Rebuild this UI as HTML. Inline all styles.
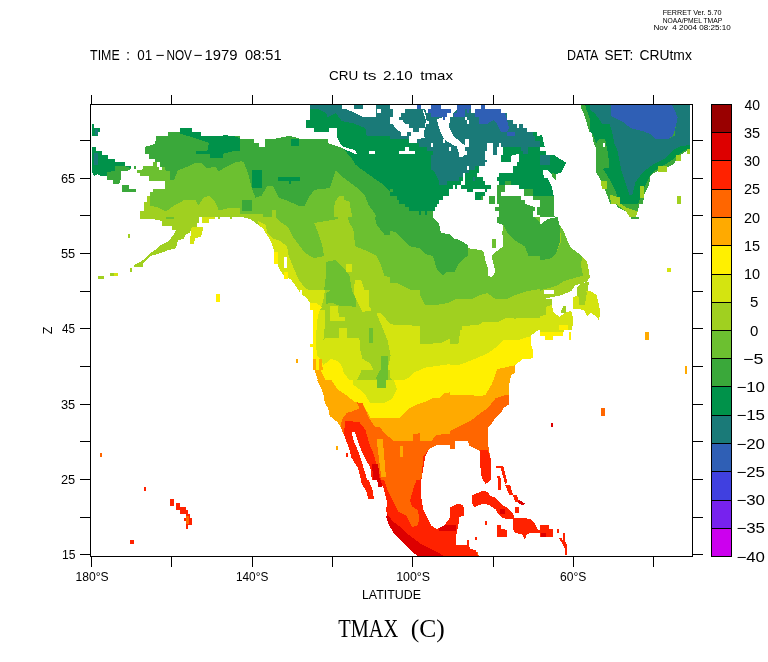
<!DOCTYPE html>
<html><head><meta charset="utf-8"><style>
html,body{margin:0;padding:0;background:#fff;}
svg{display:block;will-change:transform;}
</style></head><body>
<svg width="768" height="662" viewBox="0 0 768 662">
<rect width="768" height="662" fill="#fff"/>
<defs>
<clipPath id="c0"><rect x="90" y="104" width="150" height="113"/></clipPath>
<clipPath id="c1"><rect x="240" y="104" width="150" height="113"/></clipPath>
<clipPath id="c2"><rect x="390" y="104" width="75" height="56"/></clipPath>
<clipPath id="c3"><rect x="465" y="104" width="75" height="56"/></clipPath>
<clipPath id="c4"><rect x="540" y="104" width="150" height="113"/></clipPath>
<clipPath id="c5"><rect x="390" y="160" width="75" height="57"/></clipPath>
<clipPath id="c6"><rect x="465" y="160" width="75" height="57"/></clipPath>
<clipPath id="c7"><rect x="90" y="217" width="150" height="113"/></clipPath>
<clipPath id="c8"><rect x="240" y="217" width="150" height="113"/></clipPath>
<clipPath id="c9"><rect x="390" y="217" width="150" height="113"/></clipPath>
<clipPath id="c10"><rect x="540" y="217" width="150" height="113"/></clipPath>
<clipPath id="c11"><rect x="240" y="330" width="150" height="113"/></clipPath>
<clipPath id="c12"><rect x="390" y="330" width="150" height="113"/></clipPath>
<clipPath id="c13"><rect x="540" y="330" width="150" height="113"/></clipPath>
<clipPath id="c14"><rect x="90" y="443" width="150" height="113"/></clipPath>
<clipPath id="c15"><rect x="240" y="443" width="150" height="113"/></clipPath>
<clipPath id="c16"><rect x="390" y="443" width="150" height="113"/></clipPath>
<clipPath id="c17"><rect x="540" y="443" width="150" height="113"/></clipPath>
<clipPath id="c18"><rect x="330" y="330" width="120" height="113"/></clipPath>
<clipPath id="c19"><rect x="330" y="430" width="120" height="126"/></clipPath>
<clipPath id="c20"><rect x="300" y="290" width="120" height="80"/></clipPath>
<clipPath id="c21"><rect x="300" y="380" width="120" height="100"/></clipPath>
<clipPath id="c22"><rect x="590" y="104" width="100" height="100"/></clipPath>
<clipPath id="plot"><rect x="91" y="105" width="600" height="451"/></clipPath>
</defs><g clip-path="url(#plot)" shape-rendering="crispEdges">
<g clip-path="url(#c0)">
<polygon fill="#3aa83a" points="179.8,128.4 191.6,128.4 191.6,132.3 201.3,132.3 201.3,136.2 240.0,136.2 240.0,217.1 140.4,217.1 140.4,211.4 143.7,211.4 143.7,201.7 146.6,201.7 146.6,195.8 149.6,195.8 149.6,191.9 152.5,191.9 152.5,189.0 165.2,189.0 165.2,181.1 148.6,181.1 148.6,176.3 139.8,176.3 139.8,173.3 136.9,173.3 136.9,170.4 142.7,169.4 142.7,166.1 152.5,166.1 152.5,162.2 154.5,162.2 154.5,158.7 148.6,158.7 148.6,153.8 144.7,153.8 144.7,147.0 154.5,144.0 156.4,139.2 156.4,136.2 168.1,136.2 168.1,132.3 179.8,132.3"/>
<polygon fill="#00924a" points="179.8,128.4 191.6,128.4 191.6,132.3 201.3,132.3 201.3,136.2 218.9,136.2 224.8,135.2 234.5,136.2 240.0,138.2 240.0,150.9 234.5,150.9 222.8,153.8 222.8,157.7 210.1,157.7 210.1,153.8 196.4,153.8 196.4,150.9 207.2,150.9 209.1,143.1 201.3,140.1 191.6,137.2 179.8,133.3"/>
<polygon fill="#6cc030" points="152.5,162.2 156.4,161.6 157.4,166.5 164.2,166.5 166.2,171.4 170.1,171.4 170.1,180.2 174.0,180.2 177.9,170.4 187.7,166.5 195.5,162.6 201.3,162.6 207.2,168.5 215.0,166.5 218.9,171.4 226.7,166.5 234.5,162.6 240.0,161.6 240.0,217.1 140.4,217.1 140.4,211.4 143.7,211.4 143.7,201.7 146.6,201.7 146.6,195.8 149.6,195.8 149.6,191.9 152.5,191.9 152.5,189.0 165.2,189.0 165.2,181.1 148.6,181.1 148.6,176.3 139.8,176.3 139.8,173.3 136.9,173.3 136.9,170.4 142.7,169.4 142.7,166.1 152.5,166.1"/>
<polygon fill="#a0d020" points="140.4,217.1 140.4,211.4 143.7,211.4 143.7,201.7 146.6,201.7 146.6,195.8 149.6,195.8 150.5,205.6 158.4,207.5 166.2,211.4 174.0,205.6 181.8,201.7 183.8,199.7 195.5,199.7 198.4,205.6 203.3,197.8 209.1,195.8 215.0,201.7 218.9,210.4 226.7,208.5 240.0,207.5 240.0,217.1"/>
<polygon fill="#ffffff" points="157.4,161.6 160.3,161.6 160.3,166.5 162.3,166.5 162.3,170.4 159.3,170.4 159.3,166.5 157.4,166.5"/>
<polygon fill="#ffffff" points="152.5,185.1 165.2,185.1 165.2,189.0 152.5,189.0"/>
<polygon fill="#ffffff" points="148.6,181.1 152.5,181.1 152.5,184.1 148.6,184.1"/>
<polygon fill="#ffffff" points="154.5,181.1 158.4,181.1 158.4,184.1 154.5,184.1"/>
<polygon fill="#00924a" points="91.6,147.0 95.9,147.0 95.9,150.9 101.7,150.9 101.7,154.8 107.6,154.8 107.6,158.7 115.4,158.7 115.4,162.2 125.2,162.2 125.2,166.1 131.4,166.1 131.4,169.4 128.1,169.4 127.1,171.4 121.2,171.4 121.2,177.2 119.3,177.2 119.3,184.1 112.5,184.1 112.5,180.2 106.6,180.2 106.6,176.3 101.7,176.3 97.8,174.3 93.9,176.3 91.6,171.4"/>
<polygon fill="#1a7a78" points="93.9,152.8 97.8,152.8 97.8,164.5 93.9,164.5"/>
<polygon fill="#3aa83a" points="115.4,166.1 125.2,166.1 131.4,168.5 127.1,171.4 121.2,171.4 121.2,177.2 119.3,184.1 112.5,184.1 112.5,180.2 106.6,180.2 106.6,172.4 115.4,170.4"/>
<polygon fill="#00924a" points="91.6,123.5 93.9,123.5 93.9,128.4 99.8,128.4 99.8,132.3 97.8,132.3 97.8,136.2 91.6,136.2"/>
<polygon fill="#1a7a78" points="94.9,129.4 97.8,129.4 97.8,135.2 94.9,135.2"/>
<polygon fill="#3aa83a" points="122.2,185.1 129.1,185.1 129.1,189.0 135.9,189.0 135.9,191.9 122.2,191.9"/>
<polygon fill="#3aa83a" points="133.9,166.1 135.9,166.1 135.9,169.4 133.9,169.4"/>
</g>
<g clip-path="url(#c1)">
<polygon fill="#3aa83a" points="240.0,104.0 390.0,104.0 390.0,217.1 240.0,217.1"/>
<polygon fill="#00924a" points="310.3,104.0 390.0,104.0 390.0,191.9 382.6,184.1 376.7,180.2 363.0,170.4 355.2,164.5 353.3,160.6 343.5,148.9 339.6,143.1 336.7,136.0 336.7,128.0 328.5,128.0 328.5,131.9 314.2,131.9 314.2,128.0 306.4,128.0 306.4,120.0 310.3,120.0"/>
<polygon fill="#1a7a78" points="310.3,104.0 390.0,104.0 390.0,136.0 366.6,136.0 365.4,128.2 353.7,123.5 341.8,121.0 335.9,113.2 327.5,117.1 326.3,113.2 318.1,109.3 310.3,109.3"/>
<polygon fill="#ffffff" points="240.0,104.0 310.3,104.0 310.3,120.0 306.4,120.0 306.4,128.0 314.2,128.0 314.2,131.9 328.5,131.9 328.5,128.0 336.7,128.0 336.7,136.0 340.0,143.1 343.9,147.0 354.8,150.1 357.2,154.0 354.8,154.0 340.0,147.0 327.9,143.1 327.9,139.2 301.7,139.2 290.0,135.8 272.2,139.2 265.4,139.2 265.4,147.0 258.6,147.0 258.6,143.1 253.7,143.1 253.7,139.2 240.0,139.2"/>
<polygon fill="#ffffff" points="341.6,104.0 353.9,104.0 353.9,109.1 375.9,109.1 375.9,117.1 363.0,117.1 346.6,109.1 341.6,109.1"/>
<polygon fill="#ffffff" points="363.0,104.0 375.9,104.0 375.9,109.1 363.0,109.1"/>
<polygon fill="#ffffff" points="376.7,108.9 380.6,108.9 380.6,112.8 376.7,112.8"/>
<polygon fill="#ffffff" points="368.9,150.9 374.8,150.9 374.8,153.8 368.9,153.8"/>
<polygon fill="#00924a" points="251.7,170.4 261.5,170.4 261.5,188.0 251.7,188.0"/>
<polygon fill="#00924a" points="278.1,177.2 299.6,177.2 299.6,181.1 290.8,181.1 290.8,184.1 288.8,184.1 288.8,181.1 278.1,181.1"/>
<polygon fill="#00924a" points="290.8,139.2 298.6,139.2 298.6,146.0 290.8,146.0"/>
<polygon fill="#6cc030" points="240.0,160.6 243.9,162.6 247.8,172.4 251.7,188.0 255.6,197.8 261.5,195.8 267.3,186.0 273.2,186.0 279.1,197.8 284.9,199.7 298.6,205.6 304.5,205.6 308.4,197.8 314.2,189.9 329.8,188.0 333.8,176.3 335.7,170.4 341.6,176.3 349.4,182.1 357.2,188.0 365.0,195.8 368.9,205.6 374.8,213.4 376.7,217.1 240.0,217.1"/>
<polygon fill="#3aa83a" points="242.0,199.7 251.7,199.7 251.7,211.4 242.0,211.4"/>
<polygon fill="#a0d020" points="240.0,214.4 263.4,214.4 263.4,217.1 240.0,217.1"/>
<polygon fill="#a0d020" points="272.2,210.4 276.1,210.4 276.1,217.1 272.2,217.1"/>
<polygon fill="#a0d020" points="339.6,195.8 343.5,195.8 343.5,199.7 349.4,201.7 352.3,217.1 333.8,217.1 334.7,201.7"/>
</g>
<g clip-path="url(#c2)">
<polygon fill="#1a7a78" points="390.0,104.0 465.0,104.0 465.0,160.0 390.0,160.0"/>
<polygon fill="#00924a" points="390.0,138.7 409.0,138.7 409.0,142.6 419.3,142.6 419.3,147.0 427.1,147.0 427.1,150.9 433.0,150.9 433.0,154.8 431.0,154.8 431.0,160.0 390.0,160.0"/>
<polygon fill="#ffffff" points="399.3,150.9 414.9,150.9 414.9,153.8 399.3,153.8"/>
<polygon fill="#ffffff" points="405.1,147.0 408.6,147.0 408.6,150.9 405.1,150.9"/>
<polygon fill="#ffffff" points="390.0,104.0 417.3,104.0 417.3,108.9 422.7,108.9 425.2,113.3 426.6,120.6 429.1,120.6 429.1,123.5 426.1,124.5 425.2,128.4 423.7,132.3 424.7,137.7 417.3,139.2 416.9,142.6 409.0,142.6 409.0,136.2 411.0,136.2 411.0,132.3 407.1,132.3 407.1,135.7 401.2,135.7 400.7,132.3 394.9,127.9 392.9,124.0 390.0,124.0 390.0,116.7 392.9,116.7 392.9,109.4 390.0,109.4"/>
<polygon fill="#1a7a78" points="405.1,108.9 422.7,108.9 423.7,113.3 426.1,120.6 425.2,124.5 424.7,128.4 419.3,128.4 419.3,131.8 413.4,131.8 413.4,128.4 409.0,128.4 409.0,124.5 403.7,123.0 403.2,120.1 399.3,119.6 399.3,117.2 401.2,117.2 401.2,112.8 405.1,112.8"/>
<polygon fill="#ffffff" points="420.8,104.0 431.0,104.0 431.0,108.9 427.6,108.9 427.6,112.8 426.6,112.8 425.2,108.9 420.8,108.9"/>
<polygon fill="#ffffff" points="440.8,104.0 457.4,104.0 457.4,109.4 453.5,112.8 452.5,116.7 449.6,117.7 449.6,122.6 449.1,127.4 451.5,132.3 454.5,137.2 458.4,140.1 461.3,143.1 465.0,145.0 465.0,154.8 462.3,157.7 459.3,156.7 458.4,150.9 456.4,146.0 452.5,145.0 450.5,143.1 446.6,141.1 443.2,137.2 440.8,132.3 438.8,127.4 436.9,119.6 440.8,117.7 444.7,116.7 446.6,112.8 450.5,109.4 442.7,109.4 440.8,108.9"/>
<polygon fill="#2f5fb5" points="416.9,104.0 420.8,104.0 420.8,108.9 416.9,108.9"/>
<polygon fill="#2f5fb5" points="431.0,104.0 440.8,104.0 440.8,109.4 450.5,109.4 450.5,112.8 446.6,112.8 446.6,116.7 444.7,116.7 444.7,119.6 443.2,119.6 443.2,116.7 431.0,116.7 431.0,112.8 427.6,112.8 427.6,108.9 431.0,108.9"/>
<polygon fill="#2f5fb5" points="457.4,104.0 465.0,104.0 465.0,116.7 453.5,116.7 453.5,112.8 457.4,112.8"/>
<polygon fill="#ffffff" points="431.0,143.1 433.0,143.1 433.0,147.0 431.0,147.0"/>
<polygon fill="#ffffff" points="442.7,139.2 445.2,139.2 445.2,143.1 442.7,143.1"/>
<polygon fill="#ffffff" points="448.6,147.0 451.0,147.0 451.0,150.9 448.6,150.9"/>
</g>
<g clip-path="url(#c3)">
<polygon fill="#1a7a78" points="465.0,104.0 540.0,104.0 540.0,160.0 465.0,160.0"/>
<polygon fill="#ffffff" points="470.9,104.0 540.0,104.0 540.0,136.2 537.3,136.2 536.8,132.3 527.0,132.3 527.0,127.9 523.1,127.9 523.1,124.0 519.2,124.0 519.2,127.9 516.8,127.9 516.8,124.0 512.9,124.0 512.9,120.1 507.0,120.1 507.0,113.3 500.6,113.3 500.6,109.4 485.0,109.4 485.0,105.0 481.1,105.0 481.1,109.4 475.3,109.4 475.3,112.8 470.9,112.8"/>
<polygon fill="#2f5fb5" points="465.0,104.0 470.9,104.0 470.9,108.9 468.9,108.9 468.9,112.8 467.0,112.8 467.0,108.9 465.0,108.9"/>
<polygon fill="#2f5fb5" points="481.1,104.0 485.0,104.0 485.0,109.4 500.6,109.4 500.6,113.3 505.0,113.3 507.0,120.1 508.9,127.9 507.0,131.8 501.1,131.8 499.2,127.9 497.2,124.0 493.3,120.1 487.0,124.0 479.2,124.0 479.2,116.7 475.3,116.7 475.3,109.4 481.1,109.4"/>
<polygon fill="#2f5fb5" points="507.0,131.8 514.8,131.8 514.8,135.7 507.0,135.7"/>
<polygon fill="#ffffff" points="465.0,116.7 467.0,116.7 467.0,120.1 468.9,120.1 468.9,124.0 467.0,124.0 467.0,120.1 465.0,120.1"/>
<polygon fill="#ffffff" points="465.0,139.2 468.9,139.2 468.9,147.0 465.0,147.0"/>
<polygon fill="#ffffff" points="465.0,150.9 467.0,150.9 467.0,154.8 465.0,154.8"/>
<polygon fill="#ffffff" points="487.0,143.1 493.3,143.1 493.3,154.8 497.2,154.8 497.2,147.0 499.2,147.0 499.2,143.1 501.1,143.1 501.1,147.0 503.1,147.0 503.1,154.8 501.1,160.0 485.0,160.0 485.0,150.9 487.0,150.9"/>
<polygon fill="#00924a" points="503.1,147.0 520.7,147.0 520.7,150.9 523.1,150.9 523.1,153.8 527.5,153.8 527.5,147.0 540.0,147.0 540.0,160.0 501.1,160.0 501.1,154.8 503.1,154.8"/>
<polygon fill="#ffffff" points="510.9,155.8 518.7,153.8 518.7,160.0 510.9,160.0"/>
<polygon fill="#00924a" points="533.4,132.3 537.3,132.3 537.3,136.2 540.0,136.2 540.0,141.1 535.3,141.1 535.3,136.2 533.4,136.2"/>
</g>
<g clip-path="url(#c4)">
<polygon fill="#3aa83a" points="581.0,104.0 690.0,104.0 690.0,150.9 684.5,154.8 680.6,158.7 676.7,162.6 672.8,166.5 667.0,170.4 657.2,172.4 651.3,176.3 647.4,186.0 643.5,195.8 639.6,203.6 637.7,211.4 635.7,217.1 629.8,217.1 625.9,211.4 618.1,207.5 612.3,199.7 606.4,189.9 602.5,182.1 598.6,172.4 596.6,164.5 595.7,154.8 592.7,143.1 589.8,133.3 586.9,123.5 583.9,113.8 581.0,107.9"/>
<polygon fill="#00924a" points="584.9,104.0 690.0,104.0 690.0,147.0 684.5,150.9 676.7,156.7 668.9,162.6 657.2,166.5 649.4,170.4 643.5,178.2 639.6,188.0 635.7,197.8 631.8,203.6 625.9,203.6 620.1,197.8 614.2,188.0 608.4,178.2 602.5,168.5 600.5,158.7 598.6,147.0 596.6,137.2 592.7,127.4 588.8,115.7 585.9,107.9"/>
<polygon fill="#1a7a78" points="588.8,104.0 690.0,104.0 690.0,141.1 684.5,143.1 676.7,150.9 665.0,156.7 651.3,160.6 643.5,164.5 637.7,172.4 633.8,182.1 628.9,193.8 626.9,186.0 624.0,172.4 618.1,166.5 618.1,154.8 616.2,143.1 614.2,133.3 608.4,119.6 598.6,113.8"/>
<polygon fill="#2f5fb5" points="611.3,104.0 670.9,104.0 674.8,109.9 676.7,119.6 674.8,127.4 670.9,137.2 657.2,139.2 651.3,129.4 643.5,129.4 633.8,125.5 622.0,119.6 611.3,115.7"/>
<polygon fill="#a0d020" points="610.3,195.8 618.1,205.6 625.9,211.4 629.8,217.1 635.7,217.1 637.7,211.4 625.9,207.5 618.1,201.7 614.2,195.8"/>
<polygon fill="#a0d020" points="657.2,168.5 672.8,164.5 667.0,171.4 657.2,172.4"/>
<polygon fill="#ffffff" points="602.5,143.1 605.4,143.1 605.4,147.0 602.5,147.0"/>
<polygon fill="#a0d020" points="676.7,195.8 680.6,195.8 680.6,203.6 676.7,203.6"/>
<polygon fill="#00924a" points="540.0,135.2 542.0,135.2 543.9,143.1 544.9,147.0 540.0,147.0"/>
<polygon fill="#00924a" points="540.0,150.9 545.9,150.9 545.9,154.8 553.7,154.8 559.5,158.7 566.4,162.6 563.4,168.5 561.5,172.4 555.6,174.3 555.6,180.2 551.7,174.3 547.8,170.4 543.9,170.4 547.8,178.2 551.7,186.0 553.7,195.8 553.7,205.6 554.6,217.1 540.0,217.1"/>
<polygon fill="#1a7a78" points="540.0,154.8 549.8,154.8 549.8,164.5 540.0,164.5"/>
<polygon fill="#3aa83a" points="551.7,172.4 555.6,174.3 555.6,180.2 551.7,176.3"/>
<polygon fill="#3aa83a" points="540.0,195.8 553.7,195.8 553.7,205.6 554.6,217.1 540.0,217.1"/>
<polygon fill="#ffffff" points="542.9,170.4 546.8,170.4 547.8,178.2 543.9,178.2"/>
</g>
<g clip-path="url(#c5)">
<polygon fill="#00924a" points="390.0,160.0 465.0,160.0 465.0,217.0 390.0,217.0"/>
<polygon fill="#1a7a78" points="431.0,160.0 465.0,160.0 465.0,172.7 462.8,172.7 462.8,177.1 459.3,177.1 459.3,181.0 447.1,181.0 447.1,184.9 438.8,184.9 438.8,181.0 436.9,177.1 434.9,172.7 433.0,169.8 431.0,169.8"/>
<polygon fill="#ffffff" points="465.0,172.7 465.0,217.0 433.0,217.0 433.0,210.8 434.9,210.8 434.9,206.9 436.9,206.9 436.9,203.9 438.8,203.9 438.8,200.0 442.7,200.0 442.7,196.1 448.6,196.1 448.6,188.8 452.5,188.8 452.5,185.4 454.5,185.4 454.5,188.8 456.9,188.8 456.9,184.9 460.8,184.9 460.8,181.0 462.8,181.0 462.8,172.7"/>
<polygon fill="#00924a" points="460.8,184.9 465.0,184.9 465.0,188.8 460.8,188.8"/>
<polygon fill="#3aa83a" points="390.0,196.1 397.3,196.1 397.3,200.0 399.3,200.0 399.3,203.9 405.1,203.9 405.1,206.9 409.0,206.9 409.0,210.8 419.3,210.8 419.3,214.7 421.2,214.7 421.2,210.8 425.2,210.8 425.2,214.7 427.1,214.7 427.1,210.8 433.0,210.8 433.0,217.0 390.0,217.0"/>
<polygon fill="#3aa83a" points="390.0,188.8 392.9,188.8 392.9,191.7 390.0,191.7"/>
</g>
<g clip-path="url(#c6)">
<polygon fill="#ffffff" points="465.0,160.0 540.0,160.0 540.0,217.0 465.0,217.0"/>
<polygon fill="#1a7a78" points="465.0,160.0 487.0,160.0 487.0,162.0 485.0,162.0 485.0,165.9 474.8,165.9 474.8,169.8 468.9,169.8 468.9,172.7 465.0,172.7"/>
<polygon fill="#ffffff" points="467.0,165.9 468.9,165.9 468.9,169.8 467.0,169.8"/>
<polygon fill="#00924a" points="465.0,172.7 468.9,172.7 468.9,169.8 474.8,169.8 474.8,165.9 478.7,165.9 478.7,172.7 477.2,172.7 477.2,176.6 483.1,176.6 483.1,181.0 485.0,181.0 485.0,184.9 490.9,184.9 490.9,188.8 487.0,188.8 487.0,191.7 485.0,191.7 485.0,188.8 472.8,188.8 472.8,191.7 467.0,191.7 467.0,188.8 465.0,188.8"/>
<polygon fill="#1a7a78" points="473.3,177.1 474.8,177.1 474.8,181.0 473.3,181.0"/>
<polygon fill="#00924a" points="475.3,192.2 485.0,192.2 485.0,196.1 483.1,196.1 483.1,200.0 475.3,200.0"/>
<polygon fill="#3aa83a" points="481.1,196.1 483.1,196.1 483.1,200.0 481.1,200.0"/>
<polygon fill="#3aa83a" points="488.9,196.1 494.8,196.1 494.8,203.5 488.9,203.5"/>
<polygon fill="#00924a" points="501.1,160.0 510.9,160.0 510.9,162.0 501.1,162.0"/>
<polygon fill="#00924a" points="519.2,160.0 540.0,160.0 540.0,196.1 533.4,196.1 533.4,192.2 524.6,192.2 524.6,188.8 519.2,188.8 519.2,184.9 510.9,184.9 510.9,181.0 505.0,181.0 505.0,184.9 499.2,184.9 499.2,181.0 497.2,181.0 497.2,177.1 499.2,177.1 499.2,173.2 512.9,173.2 512.9,165.9 517.2,165.9 517.2,162.0 519.2,162.0"/>
<polygon fill="#3aa83a" points="505.0,181.0 510.9,181.0 510.9,184.9 505.0,184.9"/>
<polygon fill="#3aa83a" points="523.6,188.8 533.4,188.8 533.4,196.1 540.0,196.1 540.0,200.0 533.4,200.0 533.4,196.1 523.6,196.1"/>
<polygon fill="#3aa83a" points="497.2,184.9 505.0,184.9 505.0,191.7 501.1,191.7 501.1,196.1 520.7,196.1 520.7,200.0 524.6,200.0 524.6,203.9 534.8,206.9 534.8,210.8 532.9,210.8 532.9,217.0 499.2,217.0 499.2,210.8 495.3,210.8 495.3,206.9 498.7,206.9 498.7,203.5 497.2,203.5"/>
<polygon fill="#3aa83a" points="537.3,206.9 540.0,206.9 540.0,214.7 537.3,214.7"/>
</g>
<g clip-path="url(#c7)">
<polygon fill="#a0d020" points="140.4,217.0 199.4,217.0 199.4,222.9 197.4,222.9 197.4,228.7 191.6,228.7 189.6,232.6 185.7,234.6 183.8,238.5 177.9,240.4 175.9,248.2 168.1,250.2 160.3,253.1 150.5,256.1 146.6,260.0 142.7,263.9 142.7,267.4 133.9,267.4 133.9,264.9 141.8,260.9 146.6,257.0 150.5,253.1 156.4,249.2 160.3,245.3 168.1,241.4 174.0,234.6 175.9,229.7 172.0,229.7 172.0,225.8 162.3,225.8 162.3,220.9 152.5,219.0 140.4,219.0"/>
<polygon fill="#6cc030" points="166.2,217.0 174.0,217.0 174.0,219.0 166.2,219.0"/>
<polygon fill="#d4e410" points="191.6,226.8 203.3,226.8 201.3,236.5 195.5,238.5 193.5,244.3 189.6,244.3 190.6,234.6"/>
<polygon fill="#d4e410" points="202.3,217.0 215.0,217.0 215.0,219.0 209.1,219.0 209.1,222.9 202.3,222.9"/>
<polygon fill="#a0d020" points="97.8,276.0 103.7,276.0 103.7,278.7 97.8,278.7"/>
<polygon fill="#a0d020" points="109.9,272.5 114.4,272.5 114.4,275.6 109.9,275.6"/>
<polygon fill="#d4e410" points="114.4,272.5 118.3,272.5 118.3,275.6 114.4,275.6"/>
<polygon fill="#a0d020" points="130.0,268.2 132.0,268.2 132.0,271.7 130.0,271.7"/>
<polygon fill="#a0d020" points="128.1,234.2 130.0,234.2 130.0,237.5 128.1,237.5"/>
<polygon fill="#a0d020" points="217.9,217.0 219.9,217.0 219.9,219.0 217.9,219.0"/>
<polygon fill="#a0d020" points="230.2,217.0 232.2,217.0 232.2,219.0 230.2,219.0"/>
<polygon fill="#fff000" points="216.0,294.1 219.9,294.1 219.9,302.0 216.0,302.0"/>
</g>
<g clip-path="url(#c8)">
<polygon fill="#a0d020" points="242.0,217.0 390.0,217.0 390.0,330.1 313.2,330.1 313.2,314.7 310.3,304.9 306.4,299.0 300.5,293.2 296.6,287.3 290.8,279.5 286.9,277.5 283.9,275.6 281.0,271.7 278.1,265.8 276.1,258.0 274.2,252.2 272.2,244.3 269.3,238.5 265.4,232.6 263.4,228.7 259.5,225.8 255.6,222.9 249.8,219.0"/>
<polygon fill="#6cc030" points="275.2,217.0 337.7,217.0 337.7,219.0 314.2,222.9 318.1,232.6 322.0,244.3 324.0,256.1 314.2,258.0 310.3,256.1 304.5,252.2 298.6,244.3 292.7,236.5 288.8,228.7 284.9,224.8 279.1,220.9"/>
<polygon fill="#6cc030" points="347.4,217.0 390.0,217.0 390.0,277.5 384.5,275.6 380.6,263.9 376.7,256.1 365.0,250.2 355.2,246.3 353.3,228.7 349.4,222.9"/>
<polygon fill="#6cc030" points="325.9,261.9 335.7,260.0 343.5,267.8 349.4,275.6 351.3,287.3 355.2,299.0 357.2,308.8 349.4,308.8 339.6,304.9 331.8,304.9 325.9,301.0 324.0,291.2 325.9,275.6"/>
<polygon fill="#3aa83a" points="374.8,217.0 390.0,217.0 390.0,234.6 384.5,234.6 376.7,224.8"/>
<polygon fill="#d4e410" points="257.6,220.9 265.4,224.8 267.3,232.6 273.2,238.5 279.1,240.4 286.9,246.3 288.8,256.1 292.7,265.8 298.6,279.5 304.5,287.3 314.2,293.2 322.0,295.1 324.0,304.9 314.2,304.9 306.4,299.0 300.5,293.2 296.6,287.3 290.8,279.5 286.9,277.5 283.9,275.6 281.0,271.7 278.1,265.8 276.1,258.0 274.2,252.2 272.2,244.3 269.3,238.5 265.4,232.6 263.4,228.7 259.5,225.8"/>
<polygon fill="#d4e410" points="355.2,279.5 361.1,279.5 365.0,291.2 368.9,306.8 370.9,310.8 361.1,310.8 357.2,302.9 353.3,291.2"/>
<polygon fill="#d4e410" points="318.1,304.9 329.8,306.8 335.7,308.8 341.6,312.7 345.5,320.5 347.4,330.1 313.2,330.1 313.2,314.7"/>
<polygon fill="#d4e410" points="376.7,312.7 384.5,312.7 390.0,318.6 390.0,330.1 374.8,330.1"/>
<polygon fill="#d4e410" points="346.4,263.9 352.3,263.9 352.3,271.7 346.4,271.7"/>
<polygon fill="#fff000" points="274.2,252.2 278.1,252.2 278.1,263.9 274.2,263.9"/>
<polygon fill="#fff000" points="283.9,271.7 287.9,271.7 287.9,278.5 283.9,278.5"/>
<polygon fill="#fff000" points="310.3,302.9 318.1,306.8 322.0,310.8 320.1,330.1 313.2,330.1 313.2,314.7"/>
<polygon fill="#ffffff" points="283.9,257.0 286.9,257.0 286.9,267.8 283.9,267.8"/>
</g>
<g clip-path="url(#c9)">
<polygon fill="#6cc030" points="390.0,217.0 540.0,217.0 540.0,330.1 390.0,330.1"/>
<polygon fill="#3aa83a" points="390.0,217.0 433.0,217.0 438.8,222.9 440.8,232.6 450.5,234.6 454.5,238.5 460.3,240.4 468.1,245.3 468.1,256.1 464.2,258.0 458.4,263.9 456.4,267.8 454.5,271.7 446.6,271.7 442.7,275.6 436.9,269.7 433.0,256.1 425.2,254.1 419.3,248.2 409.5,246.3 401.7,238.5 395.9,232.6 390.0,230.7"/>
<polygon fill="#3aa83a" points="497.4,217.0 534.5,217.0 540.0,222.9 540.0,256.1 528.7,256.1 524.8,246.3 515.0,240.4 507.2,232.6 503.3,224.8 497.4,222.9"/>
<polygon fill="#ffffff" points="433.0,217.0 497.4,217.0 497.4,222.9 503.3,224.8 502.3,232.6 503.3,246.3 495.5,252.2 491.6,256.1 493.5,263.9 495.5,271.7 491.6,277.5 487.7,275.6 487.7,267.8 485.7,261.9 483.8,252.2 481.8,250.2 468.1,248.2 468.1,245.3 460.3,240.4 454.5,238.5 450.5,234.6 440.8,232.6 438.8,222.9"/>
<polygon fill="#6cc030" points="491.6,238.5 496.4,238.5 496.4,248.2 491.6,248.2"/>
<polygon fill="#a0d020" points="390.0,283.4 397.8,283.4 409.5,289.3 419.3,293.2 425.2,304.9 436.9,304.9 448.6,302.9 456.4,299.0 472.0,299.0 479.8,295.1 487.7,293.2 495.5,299.0 507.2,299.0 515.0,295.1 526.7,291.2 538.4,289.3 540.0,289.3 540.0,330.1 390.0,330.1"/>
<polygon fill="#d4e410" points="390.0,324.4 411.5,324.4 411.5,330.1 390.0,330.1"/>
<polygon fill="#d4e410" points="462.3,326.4 479.8,324.4 483.8,321.5 499.4,321.5 507.2,317.6 515.0,318.6 526.7,317.6 540.0,317.6 540.0,330.1 462.3,330.1"/>
</g>
<g clip-path="url(#c10)">
<polygon fill="#a0d020" points="540.0,224.8 547.8,219.0 557.6,217.0 559.5,224.8 563.4,230.7 567.3,240.4 571.2,248.2 577.1,252.2 582.0,256.1 586.9,261.9 588.8,269.7 589.8,277.5 586.9,281.5 581.0,283.4 577.1,287.3 571.2,291.2 561.5,295.1 551.7,297.1 543.9,299.0 540.0,299.0"/>
<polygon fill="#6cc030" points="540.0,260.0 549.8,259.0 555.6,254.1 561.5,240.4 559.5,224.8 563.4,230.7 567.3,240.4 571.2,248.2 577.1,252.2 582.0,256.1 581.0,265.8 583.0,275.6 569.3,279.5 563.4,281.5 557.6,285.4 551.7,287.3 543.9,289.3 540.0,291.2"/>
<polygon fill="#3aa83a" points="540.0,224.8 547.8,219.0 557.6,217.0 559.5,224.8 560.5,240.4 555.6,254.1 549.8,259.0 540.0,260.0"/>
<polygon fill="#ffffff" points="543.9,290.2 553.7,290.2 553.7,294.1 543.9,294.1"/>
<polygon fill="#ffffff" points="551.7,297.1 561.5,295.1 571.2,291.2 575.2,285.4 581.0,283.4 579.1,291.2 577.1,299.0 573.2,306.8 571.2,310.8 565.4,314.7 559.5,316.6 553.7,312.7 551.7,304.9"/>
<polygon fill="#a0d020" points="540.0,299.0 551.7,299.0 551.7,304.9 553.7,312.7 551.7,316.6 540.0,316.6"/>
<polygon fill="#d4e410" points="545.9,306.8 551.7,304.9 553.7,312.7 559.5,316.6 565.4,312.7 571.2,310.8 573.2,318.6 572.2,330.1 540.0,330.1 540.0,316.6 545.9,314.7"/>
<polygon fill="#fff000" points="558.6,325.4 568.3,325.4 568.3,330.1 558.6,330.1"/>
<polygon fill="#a0d020" points="577.1,287.3 581.0,283.4 588.8,281.5 587.9,291.2 584.9,299.0 581.0,304.9 577.1,304.9 577.1,295.1"/>
<polygon fill="#d4e410" points="573.2,297.1 579.1,295.1 584.9,291.2 590.8,291.2 596.6,295.1 598.6,302.9 600.5,312.7 598.6,320.5 596.6,316.6 590.8,312.7 586.9,316.6 584.9,310.8 579.1,308.8 573.2,308.8"/>
<polygon fill="#a0d020" points="578.1,291.2 584.9,289.3 586.9,293.2 584.9,304.9 579.1,304.9"/>
<polygon fill="#d4e410" points="667.0,267.8 670.9,267.8 670.9,271.7 667.0,271.7"/>
<polygon fill="#3aa83a" points="630.8,217.0 638.6,217.0 638.6,219.0 630.8,219.0"/>
<polygon fill="#a0d020" points="563.4,305.9 566.4,305.9 566.4,312.7 560.5,312.7"/>
</g>
<g clip-path="url(#c11)">
<polygon fill="#a0d020" points="312.3,330.0 390.0,330.0 390.0,443.1 345.5,443.1 343.5,435.5 339.6,427.7 335.7,421.8 331.8,415.9 327.9,408.1 325.9,400.3 322.0,390.5 318.1,380.8 314.2,369.1 312.3,359.3 312.3,347.6 310.3,347.6 310.3,343.7 312.3,343.7"/>
<polygon fill="#6cc030" points="367.0,330.0 390.0,330.0 390.0,337.8 376.7,337.8 367.0,335.9"/>
<polygon fill="#6cc030" points="380.6,355.4 390.0,355.4 390.0,384.7 380.6,384.7 378.7,369.1"/>
<polygon fill="#d4e410" points="312.3,330.0 324.0,330.0 324.0,339.8 337.7,339.8 345.5,333.9 357.2,335.9 359.1,349.5 365.0,355.4 363.0,369.1 361.1,378.8 368.9,388.6 376.7,396.4 384.5,404.2 390.0,406.2 390.0,443.1 345.5,443.1 343.5,435.5 339.6,427.7 335.7,421.8 331.8,415.9 327.9,408.1 325.9,400.3 322.0,390.5 318.1,380.8 314.2,369.1 312.3,359.3 312.3,347.6 310.3,347.6 310.3,343.7 312.3,343.7"/>
<polygon fill="#fff000" points="312.3,330.0 318.1,330.0 316.2,339.8 316.2,359.3 325.9,365.2 335.7,359.3 341.6,369.1 347.4,378.8 353.3,388.6 357.2,394.5 365.0,400.3 376.7,408.1 390.0,410.1 390.0,443.1 345.5,443.1 343.5,435.5 339.6,427.7 335.7,421.8 331.8,415.9 327.9,408.1 325.9,400.3 322.0,390.5 318.1,380.8 314.2,369.1 312.3,359.3 312.3,347.6 310.3,347.6 310.3,343.7 312.3,343.7"/>
<polygon fill="#ffaa00" points="312.3,359.3 318.1,359.3 320.1,369.1 325.9,380.8 333.8,388.6 339.6,384.7 343.5,380.8 349.4,388.6 353.3,396.4 359.1,404.2 365.0,412.0 376.7,415.9 384.5,412.0 390.0,412.0 390.0,443.1 345.5,443.1 343.5,435.5 339.6,427.7 335.7,421.8 331.8,415.9 327.9,408.1 325.9,400.3 322.0,390.5 318.1,380.8 314.2,369.1"/>
<polygon fill="#ff6600" points="325.9,400.3 331.8,400.3 335.7,398.4 341.6,396.4 345.5,404.2 353.3,404.2 357.2,408.1 365.0,417.9 376.7,427.7 384.5,427.7 390.0,431.6 390.0,443.1 345.5,443.1 343.5,435.5 339.6,427.7 335.7,421.8 331.8,415.9 327.9,408.1"/>
<polygon fill="#ff2200" points="347.4,417.9 357.2,417.9 361.1,427.7 367.0,439.4 368.9,443.1 349.4,443.1 347.4,431.6"/>
<polygon fill="#ffffff" points="331.8,412.0 335.7,412.0 335.7,415.9 331.8,415.9"/>
<polygon fill="#ffffff" points="351.3,431.6 355.2,431.6 357.2,443.1 353.3,443.1"/>
<polygon fill="#ffaa00" points="295.7,358.9 298.0,358.9 298.0,362.8 295.7,362.8"/>
</g>
<g clip-path="url(#c12)">
<polygon fill="#d4e410" points="390.0,330.0 540.0,330.0 540.0,443.1 390.0,443.1"/>
<polygon fill="#a0d020" points="413.4,330.0 460.3,330.0 458.4,343.7 427.1,343.7 419.3,341.7 413.4,335.9"/>
<polygon fill="#a0d020" points="390.0,355.4 396.8,355.4 396.8,358.3 390.0,358.3"/>
<polygon fill="#a0d020" points="390.0,380.8 396.8,380.8 396.8,396.4 390.0,396.4"/>
<polygon fill="#fff000" points="390.0,396.4 396.8,396.4 396.8,380.8 409.5,378.8 415.4,371.0 429.1,367.1 442.7,365.2 458.4,365.2 474.0,359.3 487.7,353.4 495.5,347.6 503.3,339.8 518.9,339.8 538.4,333.9 540.0,443.1 390.0,443.1"/>
<polygon fill="#ffaa00" points="390.0,412.0 393.9,412.0 397.8,417.9 407.6,412.0 413.4,404.2 423.2,402.3 434.9,400.3 446.6,394.5 468.1,394.5 479.8,396.4 485.7,394.5 491.6,384.7 497.4,369.1 515.0,365.2 540.0,365.2 540.0,443.1 390.0,443.1"/>
<polygon fill="#ff6600" points="413.4,443.1 413.4,435.5 429.1,435.5 440.8,433.5 448.6,431.6 460.3,425.7 472.0,419.8 481.8,412.0 487.7,408.1 495.5,398.4 507.2,394.5 540.0,394.5 540.0,443.1"/>
<polygon fill="#ff6600" points="390.0,440.4 413.4,440.4 413.4,443.1 390.0,443.1"/>
<polygon fill="#ffffff" points="530.6,335.9 538.4,330.0 540.0,330.0 540.0,443.1 487.7,443.1 487.7,427.7 491.6,423.8 495.5,417.9 501.3,412.0 503.3,408.1 509.1,404.2 509.1,384.7 511.1,374.9 515.0,373.0 515.0,365.2 517.0,363.2 522.8,359.3 532.6,358.3 532.6,349.5 530.6,343.7"/>
<polygon fill="#ffffff" points="454.5,441.3 468.1,441.3 468.1,443.1 454.5,443.1"/>
</g>
<g clip-path="url(#c13)">
<polygon fill="#d4e410" points="540.0,330.0 564.4,330.0 564.4,332.0 540.0,332.0"/>
<polygon fill="#fff000" points="540.0,332.0 563.0,332.0 563.0,335.9 558.6,335.9 552.7,335.9 552.7,339.8 544.9,339.8 544.9,335.9 540.0,335.9"/>
<polygon fill="#fff000" points="569.3,332.0 570.9,332.0 570.9,339.8 569.3,339.8"/>
<polygon fill="#ffaa00" points="645.1,332.0 649.0,332.0 649.0,339.8 645.1,339.8"/>
<polygon fill="#ffaa00" points="684.9,366.1 686.9,366.1 686.9,373.9 684.9,373.9"/>
<polygon fill="#ff6600" points="601.1,408.1 605.0,408.1 605.0,415.9 601.1,415.9"/>
<polygon fill="#dd0000" points="550.9,423.0 552.9,423.0 552.9,426.9 550.9,426.9"/>
</g>
<g clip-path="url(#c14)">
<polygon fill="#ff6600" points="100.2,453.2 102.1,453.2 102.1,457.1 100.2,457.1"/>
<polygon fill="#ff2200" points="144.1,487.1 146.1,487.1 146.1,491.0 144.1,491.0"/>
<polygon fill="#ff2200" points="130.0,540.1 133.9,540.1 133.9,544.0 130.0,544.0"/>
<polygon fill="#ff2200" points="170.1,499.2 174.0,499.2 174.0,505.9 170.1,505.9"/>
<polygon fill="#ff2200" points="175.9,503.2 179.8,503.2 179.8,506.5 185.7,506.5 185.7,510.4 187.7,510.4 187.7,514.3 190.0,514.3 190.0,518.2 192.0,518.2 192.0,524.6 188.0,524.6 188.0,528.9 185.7,528.9 185.7,521.1 183.8,521.1 183.8,518.2 185.7,518.2 185.7,514.3 179.8,514.3 179.8,510.4 175.9,510.4"/>
<polygon fill="#ff6600" points="186.1,516.2 189.2,516.2 189.2,524.1 186.1,524.1"/>
</g>
<g clip-path="url(#c15)">
<polygon fill="#ff2200" points="346.4,443.0 357.2,443.0 358.2,446.9 361.1,454.7 362.1,460.6 365.0,466.4 367.0,474.2 369.9,482.1 371.8,489.9 373.8,493.8 371.8,498.7 367.9,498.7 367.0,491.8 363.0,486.0 360.1,482.1 359.1,472.3 355.2,467.4 351.3,464.5 349.4,458.6 346.4,456.7 346.4,452.8 348.4,450.8 346.4,446.9"/>
<polygon fill="#ff6600" points="346.4,443.0 350.4,443.0 350.4,445.9 346.4,445.9"/>
<polygon fill="#ff6600" points="335.7,445.9 338.0,445.9 338.0,449.8 335.7,449.8"/>
<polygon fill="#ff2200" points="358.2,443.0 390.0,443.0 390.0,525.0 388.4,525.0 386.5,517.2 385.5,509.4 384.5,495.7 382.6,486.0 378.7,482.1 374.8,476.2 370.9,468.4 367.0,462.5 363.0,456.7 361.1,450.8 359.1,446.9"/>
<polygon fill="#ff6600" points="370.9,443.0 390.0,443.0 390.0,491.8 384.5,482.1 380.6,468.4 374.8,460.6 370.9,452.8"/>
<polygon fill="#ffaa00" points="376.7,443.0 386.5,443.0 384.5,454.7 385.5,466.4 388.4,478.2 390.0,482.1 390.0,443.0"/>
<polygon fill="#dd0000" points="372.8,466.4 376.7,466.4 380.6,476.2 384.5,486.0 384.5,491.8 378.7,484.0 374.8,476.2"/>
<polygon fill="#dd0000" points="386.5,513.3 390.0,513.3 390.0,525.0 387.5,525.0"/>
<polygon fill="#ff2200" points="381.6,502.6 384.5,502.6 384.5,505.5 386.5,505.5 386.5,509.4 383.6,509.4 383.6,505.5 381.6,505.5"/>
</g>
<g clip-path="url(#c16)">
<polygon fill="#ff6600" points="390.0,443.0 454.5,443.0 454.5,448.9 468.1,448.9 469.1,443.0 487.7,443.0 490.6,458.6 490.6,480.1 485.7,484.0 481.8,486.0 474.0,493.8 471.1,503.5 464.2,505.5 463.2,503.5 464.2,515.3 459.3,517.2 458.4,525.0 456.4,534.8 456.4,544.6 468.1,544.6 470.1,548.5 477.9,552.4 478.9,556.1 390.0,556.1"/>
<polygon fill="#ff2200" points="479.8,449.8 487.7,449.8 490.6,458.6 490.6,480.1 485.7,484.0 481.8,478.2 479.8,462.5"/>
<polygon fill="#ff2200" points="390.0,497.7 397.8,501.6 409.5,499.6 415.4,487.9 421.2,476.2 421.2,501.6 423.2,511.4 425.2,519.2 429.1,525.0 436.9,527.0 440.8,525.0 446.6,519.2 449.6,507.5 458.4,503.5 463.2,503.5 464.2,515.3 459.3,517.2 458.4,525.0 456.4,534.8 456.4,544.6 468.1,544.6 470.1,548.5 475.9,550.4 477.9,556.1 390.0,556.1"/>
<polygon fill="#dd0000" points="390.0,521.1 401.7,523.1 409.5,528.9 421.2,534.8 429.1,540.7 436.9,548.5 444.7,556.1 390.0,556.1"/>
<polygon fill="#dd0000" points="448.6,525.0 456.4,525.0 456.4,530.9 448.6,530.9"/>
<polygon fill="#ffaa00" points="399.8,446.9 404.6,446.9 404.6,456.7 399.8,456.7"/>
<polygon fill="#ffaa00" points="390.0,486.9 392.9,486.9 392.9,490.9 390.0,490.9"/>
<polygon fill="#ffaa00" points="410.5,486.9 413.4,486.9 413.4,490.9 410.5,490.9"/>
<polygon fill="#ffaa00" points="415.4,517.2 423.2,517.2 424.2,528.9 425.2,540.7 421.2,540.7 419.3,525.0"/>
<polygon fill="#ffffff" points="429.1,450.8 440.8,445.0 446.6,448.9 454.5,448.9 468.1,445.0 479.8,450.8 479.8,462.5 481.8,478.2 485.7,484.0 481.8,486.0 474.0,493.8 471.1,503.5 464.2,505.5 458.4,503.5 449.6,507.5 446.6,519.2 440.8,525.0 436.9,527.0 429.1,525.0 425.2,519.2 423.2,511.4 421.2,501.6 421.2,472.3 422.2,462.5 425.2,456.7"/>
<polygon fill="#ffffff" points="454.5,443.0 469.1,443.0 468.1,448.9 454.5,448.9"/>
<polygon fill="#ffffff" points="390.0,525.0 397.8,530.9 405.6,536.8 413.4,542.6 421.2,548.5 436.9,556.1 390.0,556.1"/>
<polygon fill="#ff2200" points="472.0,495.7 481.8,490.9 487.7,491.8 489.6,495.7 495.5,497.7 499.4,501.6 503.3,505.5 507.2,507.5 513.0,513.3 515.0,519.2 507.2,519.2 501.3,517.2 497.4,513.3 495.5,509.4 489.6,505.5 483.8,503.5 477.9,505.5 474.0,507.5 472.0,503.5"/>
<polygon fill="#dd0000" points="500.4,509.4 505.2,509.4 505.2,514.3 500.4,514.3"/>
<polygon fill="#ff2200" points="495.5,465.5 502.3,465.5 502.3,468.4 495.5,468.4"/>
<polygon fill="#ff2200" points="501.3,466.4 503.3,466.4 507.2,482.1 505.2,484.0 501.3,470.3"/>
<polygon fill="#ff2200" points="497.4,476.2 500.4,476.2 501.3,489.9 498.4,489.9"/>
<polygon fill="#ff2200" points="505.2,485.0 510.1,485.0 513.0,494.8 509.1,494.8"/>
<polygon fill="#ff2200" points="513.0,494.8 517.0,494.8 518.9,501.6 515.0,501.6"/>
<polygon fill="#dd0000" points="518.9,499.6 524.8,503.5 522.8,505.5 517.9,502.6"/>
<polygon fill="#ff2200" points="515.0,506.5 518.9,506.5 518.9,513.3 515.0,513.3"/>
<polygon fill="#ff2200" points="513.0,518.2 524.8,518.2 530.6,519.2 534.5,523.1 537.5,528.9 540.0,530.9 540.0,532.8 530.6,532.8 526.7,534.8 524.8,539.7 522.8,534.8 515.0,532.8 513.0,528.9"/>
<polygon fill="#ff2200" points="497.4,525.0 501.3,525.0 501.3,528.9 507.2,529.9 507.2,536.8 497.4,536.8"/>
<polygon fill="#ff2200" points="484.7,521.1 487.1,521.1 487.1,525.0 484.7,525.0"/>
<polygon fill="#ff2200" points="475.0,536.8 476.9,536.8 476.9,539.7 475.0,539.7"/>
<polygon fill="#ff2200" points="467.1,539.7 469.1,539.7 469.1,548.5 467.1,548.5"/>
</g>
<g clip-path="url(#c17)">
<polygon fill="#ff2200" points="540.0,525.0 548.8,525.0 548.8,528.9 552.7,528.9 552.7,536.8 540.0,536.8"/>
<polygon fill="#dd0000" points="541.0,532.8 545.9,532.8 545.9,536.8 541.0,536.8"/>
<polygon fill="#ff2200" points="557.2,528.9 559.1,528.9 559.1,532.8 557.2,532.8"/>
<polygon fill="#ff2200" points="563.0,532.8 565.0,532.8 565.0,540.7 567.0,544.6 567.0,555.3 565.0,555.3 565.0,548.5 563.0,544.6 560.5,540.7 559.1,537.7 561.1,537.7 563.0,540.7"/>
</g>
<g clip-path="url(#c18)">
<polygon fill="#d4e410" points="330.0,330.0 450.0,330.0 450.0,443.0 330.0,443.0"/>
<polygon fill="#a0d020" points="330.0,330.0 338.5,330.0 338.5,339.4 330.0,339.4"/>
<polygon fill="#a0d020" points="345.4,330.0 396.6,330.0 396.6,340.2 389.7,343.7 389.7,377.8 396.6,382.9 396.6,396.6 389.7,398.3 381.2,403.4 372.7,405.1 367.6,401.7 362.4,394.9 357.3,388.0 357.3,379.5 360.7,372.7 360.7,360.7 359.0,347.1 352.2,340.2 345.4,338.5"/>
<polygon fill="#a0d020" points="413.6,330.0 450.0,330.0 450.0,338.5 441.0,342.8 430.7,343.7 418.8,343.7 413.6,335.1"/>
<polygon fill="#6cc030" points="381.2,355.6 388.0,355.6 388.0,379.5 379.5,384.6 376.1,377.8 381.2,367.6"/>
<polygon fill="#6cc030" points="367.6,330.0 374.4,330.0 372.7,340.2 369.3,340.2"/>
<polygon fill="#fff000" points="330.0,363.3 335.1,359.9 340.2,363.3 343.7,372.7 348.8,379.5 357.3,388.0 362.4,394.9 367.6,401.7 372.7,405.1 381.2,403.4 389.7,398.3 396.6,396.6 396.6,382.9 408.5,377.8 413.6,372.7 425.6,367.6 450.0,364.1 450.0,392.3 444.4,393.2 439.3,398.3 432.4,398.3 425.6,401.7 413.6,405.1 408.5,410.2 403.4,415.4 396.6,411.9 389.7,413.6 381.2,415.4 374.4,417.1 367.6,411.9 362.4,406.8 357.3,401.7 352.2,396.6 347.1,388.0 340.2,384.6 333.4,381.2 330.0,382.9"/>
<polygon fill="#ffaa00" points="330.0,382.9 333.4,381.2 340.2,384.6 347.1,388.0 352.2,396.6 357.3,401.7 362.4,406.8 367.6,411.9 374.4,417.1 381.2,415.4 389.7,413.6 396.6,411.9 403.4,415.4 408.5,410.2 413.6,405.1 425.6,401.7 432.4,398.3 439.3,398.3 444.4,393.2 450.0,392.3 450.0,443.0 330.0,443.0"/>
<polygon fill="#ff6600" points="330.0,408.5 335.1,406.8 340.2,411.9 347.1,410.2 352.2,408.5 357.3,413.6 364.1,420.5 372.7,427.3 379.5,432.4 386.3,437.5 391.5,443.0 330.0,443.0"/>
<polygon fill="#ff6600" points="413.6,435.8 425.6,432.4 441.0,432.4 450.0,430.7 450.0,443.0 405.1,443.0"/>
<polygon fill="#ff6600" points="331.7,398.3 336.8,398.3 336.8,403.4 331.7,403.4"/>
<polygon fill="#ff6600" points="340.2,394.9 343.7,394.9 343.7,403.4 340.2,403.4"/>
<polygon fill="#ff2200" points="347.1,417.1 357.3,418.8 360.7,429.0 364.1,435.8 362.4,443.0 350.5,443.0 347.1,432.4"/>
<polygon fill="#ffffff" points="330.0,411.9 335.1,411.9 335.1,418.8 340.2,418.8 340.2,425.6 343.7,432.4 345.4,443.0 330.0,443.0"/>
<polygon fill="#ffffff" points="352.2,430.7 355.6,430.7 358.2,443.0 353.9,443.0"/>
</g>
<g clip-path="url(#c19)">
<polygon fill="#ffffff" points="330.0,430.0 450.0,430.0 450.0,556.1 330.0,556.1"/>
<polygon fill="#ff2200" points="342.4,430.0 351.0,430.0 352.9,437.6 356.7,445.2 360.5,452.9 363.3,462.4 367.1,473.8 370.0,483.3 372.9,491.0 373.8,498.6 368.1,498.6 366.2,491.0 361.4,483.3 358.6,471.9 352.9,466.2 349.0,460.5 346.2,454.8 347.1,451.0 346.2,441.4 343.3,435.7"/>
<polygon fill="#ff6600" points="342.4,430.0 351.0,430.0 351.0,441.4 346.2,441.4 343.3,435.7"/>
<polygon fill="#ff2200" points="354.8,430.0 450.0,430.0 450.0,556.1 444.3,556.1 436.7,553.8 425.2,551.9 417.6,548.1 410.0,542.4 402.4,536.7 396.7,531.0 391.0,523.3 387.1,515.7 386.2,510.0 387.1,502.4 385.2,494.8 383.3,487.1 378.6,477.6 372.9,466.2 368.1,456.7 363.3,449.0 360.5,439.5"/>
<polygon fill="#ff6600" points="358.6,430.0 450.0,430.0 450.0,445.2 436.7,445.2 429.0,449.0 423.3,456.7 421.4,479.5 417.6,477.6 413.8,487.1 410.0,500.5 411.9,506.2 417.6,510.0 419.5,517.6 417.6,525.2 411.9,527.1 406.2,515.7 398.6,511.9 392.9,500.5 387.1,489.0 383.3,477.6 379.5,468.1 375.7,458.6 371.9,449.0 366.2,441.4 360.5,435.7"/>
<polygon fill="#ffaa00" points="381.4,430.0 450.0,430.0 450.0,433.8 436.7,434.8 431.0,441.4 410.0,440.5 392.9,438.6 383.3,435.7"/>
<polygon fill="#ffaa00" points="375.7,437.6 381.4,437.6 387.1,475.7 383.3,475.7"/>
<polygon fill="#ffaa00" points="400.5,445.2 403.3,445.2 403.3,456.7 400.5,456.7"/>
<polygon fill="#dd0000" points="387.1,513.8 392.9,521.4 400.5,527.1 406.2,532.9 413.8,538.6 421.4,544.3 429.0,548.1 436.7,551.9 444.3,556.1 417.6,556.1 410.0,550.0 402.4,542.4 394.8,534.8 389.0,525.2 386.2,517.6"/>
<polygon fill="#dd0000" points="373.8,464.3 377.6,464.3 382.4,487.1 378.6,487.1"/>
<polygon fill="#dd0000" points="438.6,525.2 450.0,525.2 450.0,531.0 438.6,531.0"/>
<polygon fill="#ffffff" points="425.2,456.7 429.0,449.0 436.7,445.2 450.0,445.2 450.0,517.6 444.3,525.2 436.7,529.0 431.0,525.2 427.1,517.6 423.3,510.0 421.4,498.6 421.4,479.5 423.3,468.1"/>
<polygon fill="#ff6600" points="335.7,446.2 338.0,446.2 338.0,450.0 335.7,450.0"/>
</g>
<g clip-path="url(#c20)">
<polygon fill="#a0d020" points="300.0,290.0 420.0,290.0 420.0,370.0 300.0,370.0"/>
<polygon fill="#d4e410" points="302.3,290.0 325.0,290.0 323.4,299.4 321.9,305.6 315.6,310.3 312.5,310.3 310.2,302.5 306.2,297.8 302.3,294.7"/>
<polygon fill="#d4e410" points="353.9,290.0 368.8,290.0 368.8,305.6 371.9,310.3 362.5,311.9 359.4,305.6 354.7,296.2"/>
<polygon fill="#d4e410" points="329.7,305.6 337.5,305.6 339.1,316.6 345.3,316.6 345.3,321.2 329.7,321.2"/>
<polygon fill="#d4e410" points="312.5,310.3 325.0,310.3 325.0,324.4 323.4,340.0 325.0,338.4 359.4,338.4 360.2,349.4 362.5,358.8 370.3,363.4 373.4,370.0 312.5,370.0"/>
<polygon fill="#d4e410" points="376.6,313.4 381.2,313.4 390.6,324.4 420.0,325.9 420.0,370.0 387.5,370.0 390.6,355.6 387.5,340.0"/>
<polygon fill="#d4e410" points="339.1,327.5 346.9,327.5 346.9,340.0 339.1,340.0"/>
<polygon fill="#6cc030" points="325.8,293.1 331.2,290.0 351.6,290.0 355.5,297.8 355.5,307.2 346.9,305.6 339.1,305.6 331.2,302.5 325.8,304.1"/>
<polygon fill="#6cc030" points="368.8,327.5 373.4,327.5 373.4,343.1 368.8,343.1"/>
<polygon fill="#6cc030" points="381.2,355.6 387.5,355.6 387.5,370.0 381.2,370.0"/>
<polygon fill="#fff000" points="310.2,302.5 315.6,302.5 321.9,307.2 318.8,311.9 317.2,321.2 315.6,341.6 317.2,355.6 320.3,358.8 323.4,365.0 331.2,358.8 339.1,361.9 343.8,370.0 312.5,370.0 312.5,347.0 310.2,347.0 310.2,343.9 312.5,343.9 312.5,310.3 310.2,310.3"/>
<polygon fill="#ffaa00" points="312.5,358.8 315.6,358.8 315.6,370.0 312.5,370.0"/>
<polygon fill="#ffaa00" points="318.8,358.8 321.9,358.8 322.7,370.0 319.5,370.0"/>
<polygon fill="#ffffff" points="300.0,290.0 302.3,290.0 302.3,294.7 306.2,297.8 310.2,302.5 310.2,310.3 312.5,310.3 312.5,343.9 310.2,343.9 310.2,347.0 312.5,347.0 312.5,370.0 300.0,370.0"/>
</g>
<g clip-path="url(#c21)">
<polygon fill="#ff6600" points="300.0,380.0 420.0,380.0 420.0,480.0 300.0,480.0"/>
<polygon fill="#ffaa00" points="317.2,380.0 351.6,380.0 351.6,389.4 356.2,400.3 359.4,408.1 353.1,411.2 346.9,412.8 342.2,419.1 340.6,426.9 337.5,422.2 329.7,415.9 328.1,408.1 325.0,403.4 323.4,394.1 320.3,386.2"/>
<polygon fill="#fff000" points="331.2,380.0 420.0,380.0 420.0,403.4 409.4,408.1 400.0,417.5 387.5,417.5 370.3,417.5 362.5,403.4 354.7,401.9 346.9,395.6 337.5,389.4"/>
<polygon fill="#d4e410" points="353.1,380.0 393.8,380.0 396.9,389.4 392.2,398.8 382.8,403.4 370.3,403.4 365.6,395.6 359.4,389.4 353.1,384.7"/>
<polygon fill="#6cc030" points="376.6,380.0 385.9,380.0 385.9,387.8 376.6,387.8"/>
<polygon fill="#ffaa00" points="362.5,403.4 370.3,417.5 400.0,417.5 409.4,408.1 420.0,403.4 420.0,433.1 412.5,434.7 412.5,440.9 393.8,440.9 384.4,433.1 379.7,426.9 375.0,426.9 368.8,417.5"/>
<polygon fill="#ffaa00" points="376.6,439.4 382.8,439.4 385.9,476.9 381.2,476.9"/>
<polygon fill="#ffaa00" points="400.0,445.6 403.1,445.6 403.1,456.6 400.0,456.6"/>
<polygon fill="#ff2200" points="345.3,420.6 359.4,422.2 365.6,430.0 368.8,442.5 373.4,453.4 376.6,464.4 381.2,480.0 360.9,480.0 357.8,467.5 351.6,458.1 350.0,451.9 346.9,442.5 343.8,434.7"/>
<polygon fill="#dd0000" points="371.9,464.4 378.1,464.4 379.7,480.0 373.4,480.0"/>
<polygon fill="#ffffff" points="351.6,431.6 354.7,431.6 359.4,445.6 364.1,456.6 370.3,467.5 371.9,480.0 367.2,480.0 362.5,464.4 357.8,450.3 353.1,439.4"/>
<polygon fill="#ffffff" points="300.0,380.0 317.2,380.0 320.3,386.2 323.4,394.1 325.0,403.4 328.1,408.1 329.7,415.9 337.5,422.2 340.6,426.9 343.8,434.7 346.9,442.5 350.0,451.9 351.6,458.1 357.8,467.5 360.9,480.0 300.0,480.0"/>
<polygon fill="#ffaa00" points="335.9,445.6 338.3,445.6 338.3,449.5 335.9,449.5"/>
<polygon fill="#ff2200" points="346.1,453.4 348.4,453.4 348.4,456.6 346.1,456.6"/>
</g>
<g clip-path="url(#c22)">
<polygon fill="#ffffff" points="590.0,104.0 690.0,104.0 690.0,204.0 590.0,204.0"/>
<polygon fill="#3aa83a" points="590.0,104.0 690.0,104.0 690.0,147.8 686.7,150.8 682.1,153.8 677.6,158.4 673.1,164.4 667.0,167.4 659.5,170.5 653.4,173.5 650.4,176.5 648.9,185.6 644.4,194.6 642.9,204.0 610.4,204.0 608.1,197.7 604.4,188.6 601.3,181.0 596.0,172.0 596.0,147.8 593.8,143.3 591.5,131.2 590.0,131.2"/>
<polygon fill="#00924a" points="590.0,110.0 594.5,113.1 599.1,119.1 602.1,123.6 609.6,123.6 612.7,134.2 614.2,143.3 617.2,149.3 620.2,164.4 621.7,172.0 629.3,194.6 632.3,194.6 635.3,182.5 642.9,172.0 653.4,164.4 665.5,158.4 674.6,149.3 680.6,146.3 690.0,144.8 690.0,149.3 683.7,150.8 676.1,156.9 670.1,161.4 662.5,165.9 655.0,170.5 650.4,175.0 645.9,184.1 641.4,194.6 638.3,204.0 620.2,204.0 615.7,191.6 609.6,179.5 605.1,172.0 602.1,169.0 609.6,167.4 608.1,153.8 605.1,138.7 599.1,138.7 596.0,143.3 593.0,134.2 590.0,131.2"/>
<polygon fill="#1a7a78" points="590.0,104.0 611.1,104.0 611.1,116.1 623.2,122.1 630.8,128.2 642.9,131.2 650.4,134.2 655.0,138.7 668.5,138.7 674.6,135.7 676.1,123.6 673.1,108.5 671.6,104.0 690.0,104.0 690.0,144.8 680.6,146.3 674.6,149.3 665.5,158.4 653.4,164.4 642.9,172.0 635.3,182.5 632.3,194.6 629.3,194.6 621.7,172.0 620.2,164.4 617.2,149.3 614.2,143.3 612.7,134.2 609.6,123.6 602.1,123.6 599.1,119.1 594.5,113.1 590.0,110.0"/>
<polygon fill="#2f5fb5" points="611.1,104.0 671.6,104.0 674.6,110.0 677.6,117.6 676.1,125.1 673.1,135.7 668.5,138.7 655.0,138.7 650.4,134.2 642.9,131.2 630.8,128.2 623.2,122.1 611.1,116.1"/>
<polygon fill="#a0d020" points="600.6,181.0 606.6,181.0 606.6,188.6 602.1,188.6"/>
<polygon fill="#a0d020" points="609.6,194.6 620.2,197.7 620.2,204.0 611.1,204.0"/>
<polygon fill="#a0d020" points="639.8,185.6 644.4,185.6 644.4,197.7 639.8,197.7"/>
<polygon fill="#a0d020" points="658.0,165.9 667.0,165.9 667.0,172.0 658.0,172.0"/>
<polygon fill="#a0d020" points="676.1,155.4 680.6,155.4 680.6,161.4 676.1,161.4"/>
<polygon fill="#a0d020" points="686.7,149.3 690.0,149.3 690.0,153.8 686.7,153.8"/>
<polygon fill="#a0d020" points="676.9,196.1 680.6,196.1 680.6,204.0 676.9,204.0"/>
<polygon fill="#ffffff" points="602.8,143.3 605.1,143.3 605.1,147.1 602.8,147.1"/>
</g>
</g>
<g stroke="#000" stroke-width="1" fill="none" shape-rendering="crispEdges">
<path d="M90.5 104.5 V556.5 M90 104.5 H692.5 M90 556.5 H692.5 M692.5 104 V556.5"/>
<path d="M80 554.5 H90 M692 554.5 H703"/>
<path d="M80 517.5 H90 M692 517.5 H703"/>
<path d="M80 479.5 H90 M692 479.5 H703"/>
<path d="M80 441.5 H90 M692 441.5 H703"/>
<path d="M80 404.5 H90 M692 404.5 H703"/>
<path d="M80 366.5 H90 M692 366.5 H703"/>
<path d="M80 328.5 H90 M692 328.5 H703"/>
<path d="M80 291.5 H90 M692 291.5 H703"/>
<path d="M80 253.5 H90 M692 253.5 H703"/>
<path d="M80 215.5 H90 M692 215.5 H703"/>
<path d="M80 178.5 H90 M692 178.5 H703"/>
<path d="M80 140.5 H90 M692 140.5 H703"/>
<path d="M91.5 95 V104 M91.5 556 V567"/>
<path d="M171.5 95 V104 M171.5 556 V567"/>
<path d="M252.5 95 V104 M252.5 556 V567"/>
<path d="M332.5 95 V104 M332.5 556 V567"/>
<path d="M412.5 95 V104 M412.5 556 V567"/>
<path d="M493.5 95 V104 M493.5 556 V567"/>
<path d="M573.5 95 V104 M573.5 556 V567"/>
<path d="M653.5 95 V104 M653.5 556 V567"/>
</g>
<text x="90.08" y="60" font-size="14.5" font-family="Liberation Sans" textLength="29.68" lengthAdjust="spacingAndGlyphs" xml:space="preserve">TIME</text>
<text x="125.98" y="60" font-size="14.5" font-family="Liberation Sans" textLength="4.04" lengthAdjust="spacingAndGlyphs" xml:space="preserve">:</text>
<text x="137.32" y="60" font-size="14.5" font-family="Liberation Sans" textLength="14.94" lengthAdjust="spacingAndGlyphs" xml:space="preserve">01</text>
<text x="155.40" y="60" font-size="14.5" font-family="Liberation Sans" textLength="8.86" lengthAdjust="spacingAndGlyphs" xml:space="preserve">−</text>
<text x="166.40" y="60" font-size="14.5" font-family="Liberation Sans" textLength="25.60" lengthAdjust="spacingAndGlyphs" xml:space="preserve">NOV</text>
<text x="193.40" y="60" font-size="14.5" font-family="Liberation Sans" textLength="8.86" lengthAdjust="spacingAndGlyphs" xml:space="preserve">−</text>
<text x="204.56" y="60" font-size="14.5" font-family="Liberation Sans" textLength="33.04" lengthAdjust="spacingAndGlyphs" xml:space="preserve">1979</text>
<text x="244.90" y="60" font-size="14.5" font-family="Liberation Sans" textLength="36.70" lengthAdjust="spacingAndGlyphs" xml:space="preserve">08:51</text>
<text x="329.06" y="80" font-size="13.5" font-family="Liberation Sans" textLength="29.22" lengthAdjust="spacingAndGlyphs" xml:space="preserve">CRU</text>
<text x="362.98" y="80" font-size="13.5" font-family="Liberation Sans" textLength="13.62" lengthAdjust="spacingAndGlyphs" xml:space="preserve">ts</text>
<text x="383.06" y="80" font-size="13.5" font-family="Liberation Sans" textLength="29.54" lengthAdjust="spacingAndGlyphs" xml:space="preserve">2.10</text>
<text x="420.32" y="80" font-size="13.5" font-family="Liberation Sans" textLength="32.60" lengthAdjust="spacingAndGlyphs" xml:space="preserve">tmax</text>
<text x="566.98" y="60" font-size="14" font-family="Liberation Sans" textLength="31.44" lengthAdjust="spacingAndGlyphs" xml:space="preserve">DATA</text>
<text x="604.48" y="60" font-size="14" font-family="Liberation Sans" textLength="28.72" lengthAdjust="spacingAndGlyphs" xml:space="preserve">SET:</text>
<text x="639.48" y="60" font-size="14" font-family="Liberation Sans" textLength="52.36" lengthAdjust="spacingAndGlyphs" xml:space="preserve">CRUtmx</text>
<text x="662.66" y="15" font-size="8" font-family="Liberation Sans" textLength="58.92" lengthAdjust="spacingAndGlyphs" xml:space="preserve">FERRET Ver. 5.70</text>
<text x="662.66" y="23" font-size="8" font-family="Liberation Sans" textLength="59.52" lengthAdjust="spacingAndGlyphs" xml:space="preserve">NOAA/PMEL TMAP</text>
<text x="653.40" y="30" font-size="7" font-family="Liberation Sans" textLength="77.26" lengthAdjust="spacingAndGlyphs" xml:space="preserve">Nov  4 2004 08:25:10</text>
<text x="60.98" y="183" font-size="12.5" font-family="Liberation Sans" textLength="14.28" lengthAdjust="spacingAndGlyphs" xml:space="preserve">65</text>
<text x="60.98" y="258" font-size="12.5" font-family="Liberation Sans" textLength="14.28" lengthAdjust="spacingAndGlyphs" xml:space="preserve">55</text>
<text x="62.00" y="333" font-size="12.5" font-family="Liberation Sans" textLength="13.00" lengthAdjust="spacingAndGlyphs" xml:space="preserve">45</text>
<text x="60.98" y="409" font-size="12.5" font-family="Liberation Sans" textLength="14.28" lengthAdjust="spacingAndGlyphs" xml:space="preserve">35</text>
<text x="60.98" y="484" font-size="12.5" font-family="Liberation Sans" textLength="14.28" lengthAdjust="spacingAndGlyphs" xml:space="preserve">25</text>
<text x="61.98" y="559" font-size="12.5" font-family="Liberation Sans" textLength="13.54" lengthAdjust="spacingAndGlyphs" xml:space="preserve">15</text>
<text x="75.40" y="581" font-size="12.5" font-family="Liberation Sans" textLength="33.20" lengthAdjust="spacingAndGlyphs" xml:space="preserve">180°S</text>
<text x="235.98" y="581" font-size="12.5" font-family="Liberation Sans" textLength="32.36" lengthAdjust="spacingAndGlyphs" xml:space="preserve">140°S</text>
<text x="396.14" y="581" font-size="12.5" font-family="Liberation Sans" textLength="33.88" lengthAdjust="spacingAndGlyphs" xml:space="preserve">100°S</text>
<text x="559.98" y="581" font-size="12.5" font-family="Liberation Sans" textLength="26.36" lengthAdjust="spacingAndGlyphs" xml:space="preserve">60°S</text>
<text x="361.90" y="599" font-size="13" font-family="Liberation Sans" textLength="59.10" lengthAdjust="spacingAndGlyphs" xml:space="preserve">LATITUDE</text>
<text x="338.32" y="637" font-size="26" font-family="Liberation Serif" textLength="59.86" lengthAdjust="spacingAndGlyphs" xml:space="preserve">TMAX</text>
<text x="410.72" y="637" font-size="26" font-family="Liberation Serif" textLength="34.06" lengthAdjust="spacingAndGlyphs" xml:space="preserve">(C)</text>
<text x="744.50" y="110" font-size="14" font-family="Liberation Sans" textLength="15.52" lengthAdjust="spacingAndGlyphs" xml:space="preserve">40</text>
<text x="743.90" y="138" font-size="14" font-family="Liberation Sans" textLength="16.12" lengthAdjust="spacingAndGlyphs" xml:space="preserve">35</text>
<text x="743.90" y="166" font-size="14" font-family="Liberation Sans" textLength="16.12" lengthAdjust="spacingAndGlyphs" xml:space="preserve">30</text>
<text x="743.90" y="194" font-size="14" font-family="Liberation Sans" textLength="16.12" lengthAdjust="spacingAndGlyphs" xml:space="preserve">25</text>
<text x="743.90" y="223" font-size="14" font-family="Liberation Sans" textLength="16.12" lengthAdjust="spacingAndGlyphs" xml:space="preserve">20</text>
<text x="743.90" y="251" font-size="14" font-family="Liberation Sans" textLength="16.12" lengthAdjust="spacingAndGlyphs" xml:space="preserve">15</text>
<text x="743.90" y="279" font-size="14" font-family="Liberation Sans" textLength="16.12" lengthAdjust="spacingAndGlyphs" xml:space="preserve">10</text>
<text x="749.98" y="307" font-size="14" font-family="Liberation Sans" textLength="8.36" lengthAdjust="spacingAndGlyphs" xml:space="preserve">5</text>
<text x="749.98" y="336" font-size="14" font-family="Liberation Sans" textLength="8.36" lengthAdjust="spacingAndGlyphs" xml:space="preserve">0</text>
<text x="743.06" y="364" font-size="14" font-family="Liberation Sans" textLength="20.30" lengthAdjust="spacingAndGlyphs" xml:space="preserve">−5</text>
<text x="736.40" y="392" font-size="14" font-family="Liberation Sans" textLength="28.62" lengthAdjust="spacingAndGlyphs" xml:space="preserve">−10</text>
<text x="736.40" y="420" font-size="14" font-family="Liberation Sans" textLength="28.62" lengthAdjust="spacingAndGlyphs" xml:space="preserve">−15</text>
<text x="736.40" y="449" font-size="14" font-family="Liberation Sans" textLength="28.62" lengthAdjust="spacingAndGlyphs" xml:space="preserve">−20</text>
<text x="736.40" y="477" font-size="14" font-family="Liberation Sans" textLength="28.62" lengthAdjust="spacingAndGlyphs" xml:space="preserve">−25</text>
<text x="736.40" y="505" font-size="14" font-family="Liberation Sans" textLength="28.62" lengthAdjust="spacingAndGlyphs" xml:space="preserve">−30</text>
<text x="736.40" y="533" font-size="14" font-family="Liberation Sans" textLength="28.62" lengthAdjust="spacingAndGlyphs" xml:space="preserve">−35</text>
<text x="736.40" y="562" font-size="14" font-family="Liberation Sans" textLength="28.62" lengthAdjust="spacingAndGlyphs" xml:space="preserve">−40</text>
<text x="52" y="330.5" font-size="12.5" font-family="Liberation Sans" transform="rotate(-90 52 330.5)" text-anchor="middle">Z</text>
<rect x="711" y="528" width="21" height="28" fill="#cc00ee"/>
<rect x="711" y="500" width="21" height="28" fill="#7722ee"/>
<rect x="711" y="471" width="21" height="29" fill="#4040e0"/>
<rect x="711" y="443" width="21" height="28" fill="#2f5fb5"/>
<rect x="711" y="415" width="21" height="28" fill="#1a7a78"/>
<rect x="711" y="386" width="21" height="29" fill="#00924a"/>
<rect x="711" y="358" width="21" height="28" fill="#3aa83a"/>
<rect x="711" y="330" width="21" height="28" fill="#6cc030"/>
<rect x="711" y="302" width="21" height="28" fill="#a0d020"/>
<rect x="711" y="274" width="21" height="28" fill="#d4e410"/>
<rect x="711" y="245" width="21" height="29" fill="#fff000"/>
<rect x="711" y="217" width="21" height="28" fill="#ffaa00"/>
<rect x="711" y="189" width="21" height="28" fill="#ff6600"/>
<rect x="711" y="160" width="21" height="29" fill="#ff2200"/>
<rect x="711" y="132" width="21" height="28" fill="#dd0000"/>
<rect x="711" y="104" width="21" height="28" fill="#990000"/>
<g stroke="#000" stroke-width="1" fill="none" shape-rendering="crispEdges">
<path d="M711.5 104 V557 M731.5 104 V557"/>
<path d="M711 556.5 H732"/>
<path d="M711 528.5 H732"/>
<path d="M711 500.5 H732"/>
<path d="M711 471.5 H732"/>
<path d="M711 443.5 H732"/>
<path d="M711 415.5 H732"/>
<path d="M711 386.5 H732"/>
<path d="M711 358.5 H732"/>
<path d="M711 330.5 H732"/>
<path d="M711 302.5 H732"/>
<path d="M711 274.5 H732"/>
<path d="M711 245.5 H732"/>
<path d="M711 217.5 H732"/>
<path d="M711 189.5 H732"/>
<path d="M711 160.5 H732"/>
<path d="M711 132.5 H732"/>
<path d="M711 104.5 H732"/>
</g>
</svg></body></html>
